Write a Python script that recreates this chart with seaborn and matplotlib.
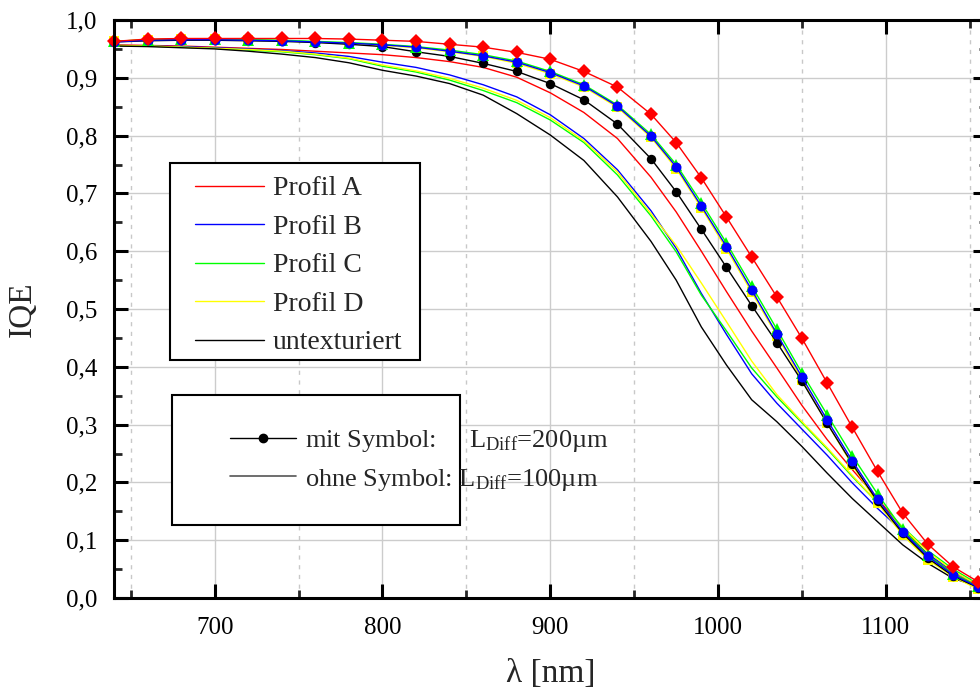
import numpy as np
import pandas as pd
import seaborn as sns
import matplotlib
matplotlib.use("Agg")
import matplotlib.pyplot as plt
from matplotlib.lines import Line2D
from matplotlib.patches import Rectangle
from matplotlib.ticker import MultipleLocator, FuncFormatter

# ---------------- data ----------------
wl = [640, 660, 680, 700, 720, 740, 760, 780, 800, 820, 840, 860, 880, 900, 920, 940, 960,
      975, 990, 1005, 1020, 1035, 1050, 1065, 1080, 1095, 1110, 1125, 1140, 1155]

# L_Diff = 200 um (with symbols)
a_200 = [0.963, 0.967, 0.968, 0.968, 0.968, 0.968, 0.968, 0.967, 0.965, 0.963, 0.958, 0.953, 0.944, 0.932,
         0.911, 0.884, 0.837, 0.788, 0.727, 0.659, 0.590, 0.521, 0.449, 0.372, 0.295, 0.219, 0.147, 0.093, 0.054, 0.028]
b_200 = [0.962, 0.965, 0.966, 0.966, 0.965, 0.964, 0.962, 0.960, 0.957, 0.953, 0.946, 0.938, 0.927, 0.909,
         0.886, 0.851, 0.799, 0.746, 0.678, 0.608, 0.533, 0.457, 0.382, 0.308, 0.237, 0.171, 0.115, 0.072, 0.040, 0.019]
c_200 = [0.963, 0.966, 0.967, 0.967, 0.966, 0.965, 0.963, 0.961, 0.958, 0.954, 0.948, 0.940, 0.929, 0.911,
         0.888, 0.853, 0.802, 0.750, 0.684, 0.614, 0.540, 0.465, 0.389, 0.317, 0.246, 0.180, 0.119, 0.074, 0.042, 0.020]
d_200 = [0.963, 0.966, 0.967, 0.967, 0.966, 0.964, 0.962, 0.959, 0.956, 0.952, 0.945, 0.937, 0.925, 0.907,
         0.884, 0.849, 0.797, 0.743, 0.675, 0.604, 0.529, 0.454, 0.377, 0.302, 0.230, 0.164, 0.109, 0.066, 0.037, 0.015]
u_200 = [0.962, 0.964, 0.965, 0.965, 0.964, 0.963, 0.961, 0.958, 0.954, 0.945, 0.937, 0.925, 0.911, 0.890,
         0.862, 0.820, 0.760, 0.703, 0.638, 0.572, 0.506, 0.442, 0.375, 0.302, 0.232, 0.167, 0.112, 0.069, 0.038, 0.018]

# L_Diff = 100 um (without symbols)
a_100 = [0.957, 0.956, 0.955, 0.953, 0.951, 0.949, 0.946, 0.943, 0.940, 0.935, 0.928, 0.918, 0.901, 0.874,
         0.840, 0.795, 0.728, 0.668, 0.600, 0.530, 0.462, 0.398, 0.333, 0.274, 0.222, 0.172, 0.121, 0.075, 0.042, 0.022]
b_100 = [0.956, 0.955, 0.954, 0.952, 0.950, 0.947, 0.943, 0.937, 0.927, 0.918, 0.905, 0.888, 0.867, 0.836,
         0.795, 0.741, 0.670, 0.605, 0.527, 0.456, 0.388, 0.337, 0.292, 0.247, 0.199, 0.155, 0.115, 0.076, 0.046, 0.022]
c_100 = [0.956, 0.955, 0.953, 0.951, 0.948, 0.945, 0.940, 0.933, 0.920, 0.910, 0.896, 0.878, 0.857, 0.827,
         0.788, 0.732, 0.661, 0.599, 0.524, 0.462, 0.398, 0.348, 0.303, 0.258, 0.210, 0.165, 0.123, 0.082, 0.050, 0.024]
d_100 = [0.956, 0.955, 0.953, 0.951, 0.949, 0.946, 0.941, 0.934, 0.922, 0.912, 0.899, 0.882, 0.861, 0.831,
         0.791, 0.737, 0.665, 0.610, 0.545, 0.478, 0.410, 0.352, 0.305, 0.260, 0.212, 0.165, 0.122, 0.080, 0.047, 0.022]
u_100 = [0.955, 0.954, 0.952, 0.950, 0.946, 0.941, 0.935, 0.926, 0.913, 0.903, 0.890, 0.870, 0.838, 0.801,
         0.757, 0.694, 0.617, 0.550, 0.469, 0.403, 0.343, 0.305, 0.262, 0.216, 0.172, 0.132, 0.092, 0.060, 0.034, 0.020]

labels = ["Profil A", "Profil B", "Profil C", "Profil D", "untexturiert"]
colors = ["#ff0000", "#0000ff", "#00ff00", "#ffff00", "#000000"]
legend2_labels = ["mit Symbol:     L$_{\\rm Diff}$=200µm", "ohne Symbol: L$_{\\rm Diff}$=100µm"]

# ---------------- style ----------------
sns.set_theme(style="white")
plt.rcParams["font.family"] = ["Liberation Serif", "DejaVu Serif"]
plt.rcParams["mathtext.fontset"] = "custom"
plt.rcParams["mathtext.rm"] = "Liberation Serif"
plt.rcParams["mathtext.it"] = "Liberation Serif:italic"
plt.rcParams["axes.unicode_minus"] = False

fig = plt.figure(figsize=(9.8, 6.93), dpi=100)
W, H = 980, 693
ax_left, ax_right = 114, 986.6
ax_top, ax_bot = 20, 598
ax = fig.add_axes([ax_left / W, (H - ax_bot) / H, (ax_right - ax_left) / W, (ax_bot - ax_top) / H])

# grid
ax.set_xlim(640, 1160)
ax.set_ylim(0.0, 1.0)
ax.xaxis.set_major_locator(MultipleLocator(100))
ax.xaxis.set_minor_locator(MultipleLocator(50))
ax.yaxis.set_major_locator(MultipleLocator(0.1))
ax.yaxis.set_minor_locator(MultipleLocator(0.05))
ax.grid(True, which="major", axis="both", color="#cccccc", linewidth=1.0, linestyle="-")
ax.grid(True, which="minor", axis="x", color="#c8c8c8", linewidth=1.0, linestyle=(0, (3, 4)))
ax.set_axisbelow(True)

# curves without symbols (100 um)
series_100 = [a_100, b_100, c_100, d_100, u_100]
for vals, col in zip(series_100, colors):
    sns.lineplot(x=wl, y=vals, ax=ax, color=col, linewidth=1.0, legend=False, zorder=3)

# curves with symbols (200 um): draw order yellow, black, green, blue, red
sym = [
    (d_200, "#ffff00", "s", 7.5),
    (u_200, "#000000", "o", 6.8),
    (c_200, "#00ff00", "^", 8.5),
    (b_200, "#0000ff", "o", 7.2),
    (a_200, "#ff0000", "D", 7.2),
]
for i, (vals, col, mk, ms) in enumerate(sym):
    sns.lineplot(x=wl, y=vals, ax=ax, color=col, linewidth=1.0, marker=mk, markersize=ms,
                 markeredgecolor=col, markeredgewidth=0, markerfacecolor=col, legend=False,
                 zorder=4 + i, clip_on=False)

# ticks
ax.yaxis.set_major_formatter(FuncFormatter(lambda v, p: f"{v:.1f}".replace(".", ",")))
ax.xaxis.set_major_formatter(FuncFormatter(lambda v, p: f"{v:.0f}"))
ax.tick_params(axis="both", which="major", direction="in", length=10, width=2.2, labelsize=18,
               top=True, right=True, bottom=True, left=True, colors="black")
ax.tick_params(axis="x", which="major", pad=14)
ax.tick_params(axis="y", which="major", pad=12)
ax.tick_params(axis="both", which="minor", direction="in", length=6, width=2.0,
               top=True, right=True, bottom=True, left=True)
for s in ax.spines.values():
    s.set_linewidth(2.2)
    s.set_color("black")
    s.set_visible(True)
    s.set_zorder(30)

ax.set_xlabel("λ [nm]", fontsize=24, labelpad=14)
ax.set_ylabel("IQE", fontsize=24, labelpad=20)

# legend helpers (pixel -> axes fraction)
def ax_x(px):
    return (px - ax_left) / (ax_right - ax_left)

def ax_y(py):
    return (ax_bot - py) / (ax_bot - ax_top)

# legend 1
r1 = Rectangle((ax_x(170), ax_y(360)), ax_x(420) - ax_x(170), ax_y(163) - ax_y(360),
               transform=ax.transAxes, facecolor="white", edgecolor="black", linewidth=1.5, zorder=20)
ax.add_patch(r1)
h1 = [Line2D([], [], color=c, linewidth=1.0) for c in colors]
leg1 = ax.legend(h1, labels, loc="upper left", bbox_to_anchor=(ax_x(195), ax_y(176)), frameon=False,
                 fontsize=20, handlelength=2.5, handletextpad=0.3, labelspacing=0.47, borderpad=0,
                 borderaxespad=0)
leg1.set_zorder(21)
ax.add_artist(leg1)

# legend 2
r2 = Rectangle((ax_x(172), ax_y(525)), ax_x(460) - ax_x(172), ax_y(395) - ax_y(525),
               transform=ax.transAxes, facecolor="white", edgecolor="black", linewidth=1.5, zorder=20)
ax.add_patch(r2)
h2 = [Line2D([], [], color="black", linewidth=1.0, marker="o", markersize=6),
      Line2D([], [], color="#555555", linewidth=1.2)]
leg2 = ax.legend(h2, legend2_labels, loc="upper left", bbox_to_anchor=(ax_x(230), ax_y(428)), frameon=False,
                 fontsize=19, handlelength=2.5, handletextpad=0.35, labelspacing=0.48, borderpad=0,
                 borderaxespad=0)
leg2.set_zorder(21)

fig.savefig("out.png", dpi=100)
